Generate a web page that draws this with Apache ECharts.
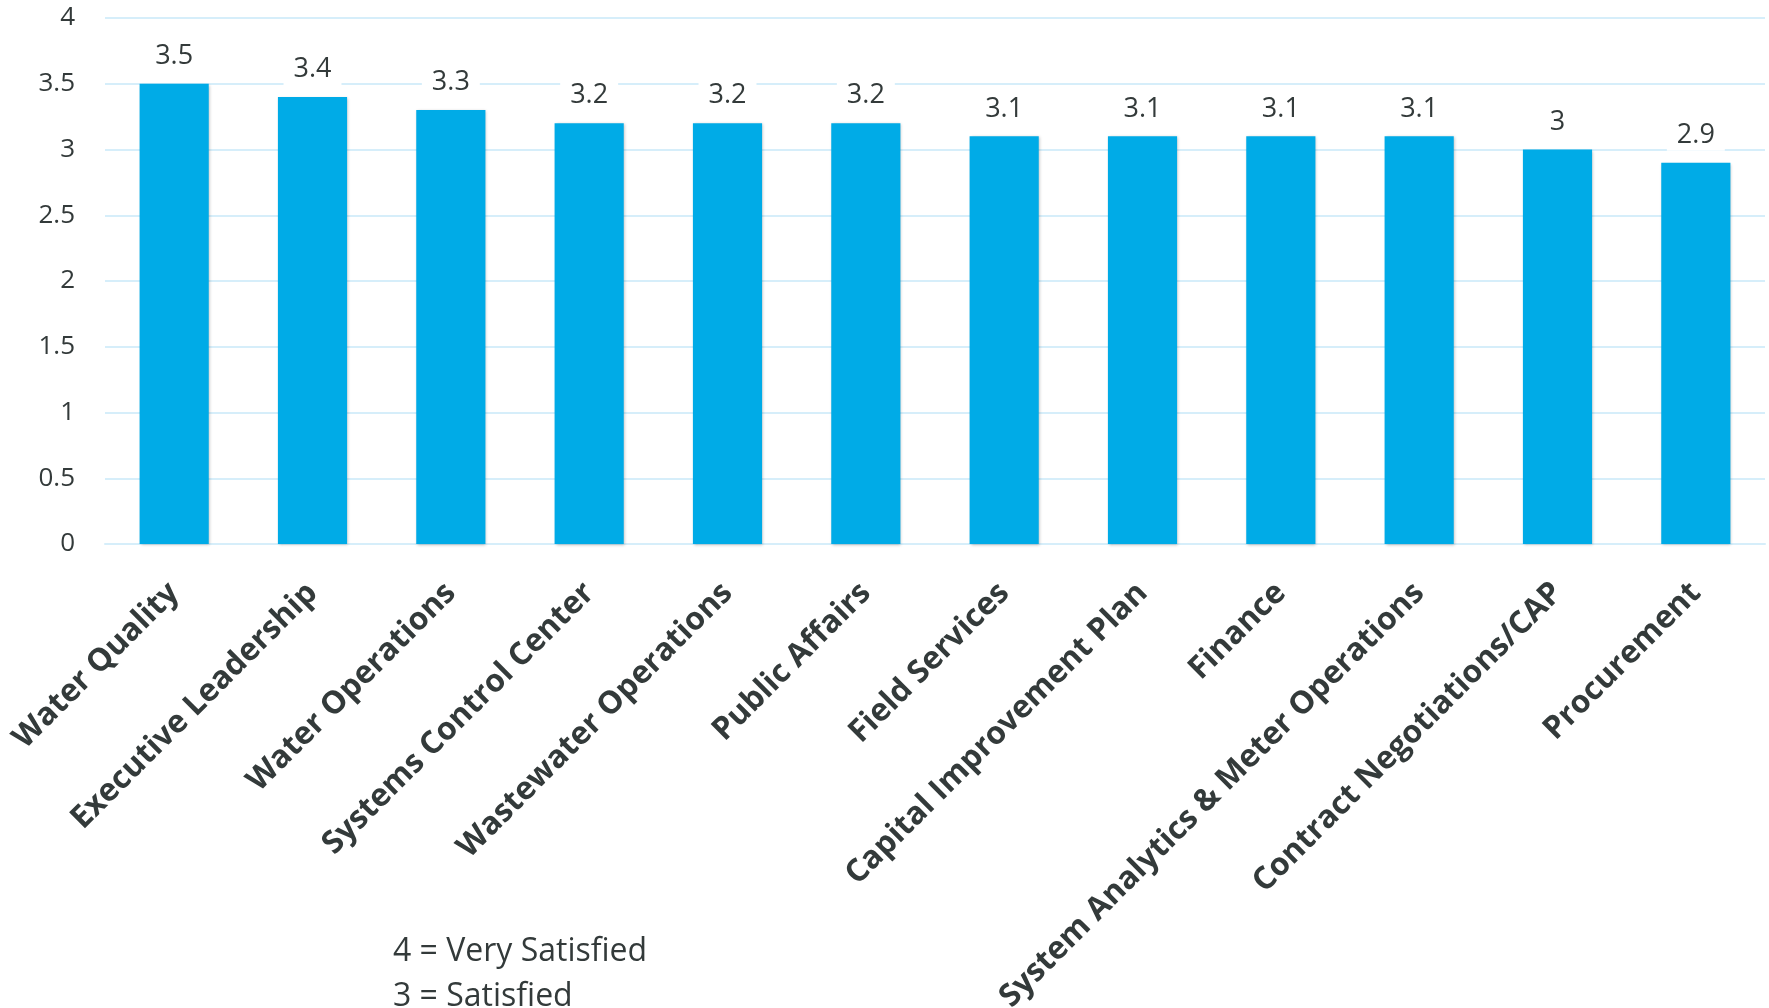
<!DOCTYPE html>
<html>
<head>
<meta charset="utf-8">
<script src="https://cdn.jsdelivr.net/npm/echarts@6/dist/echarts.min.js"></script>
<style>
  html, body { margin: 0; padding: 0; background: #fff; }
  #main { width: 1769px; height: 1008px; }
</style>
</head>
<body>
<div id="main"></div>
<script>
// departments, ordered as in the chart
var categories = [
  'Water Quality', 'Executive Leadership', 'Water Operations', 'Systems Control Center',
  'Wastewater Operations', 'Public Affairs', 'Field Services', 'Capital Improvement Plan',
  'Finance', 'System Analytics & Meter Operations', 'Contract Negotiations/CAP', 'Procurement'
];
var scores = [3.5, 3.4, 3.3, 3.2, 3.2, 3.2, 3.1, 3.1, 3.1, 3.1, 3.0, 2.9];
var notes = ['4 = Very Satisfied', '3 = Satisfied'];

var FONT = '"Open Sans", "Noto Sans", sans-serif';
var TXT = '#333a3a';

var myChart = echarts.init(document.getElementById('main'));
myChart.setOption({
  animation: false,
  grid: { left: 105, right: 4, top: 18, bottom: 464, containLabel: false, outerBoundsMode: 'none' },
  xAxis: {
    type: 'category',
    data: categories,
    axisLine: { show: true, lineStyle: { color: '#d6eefa', width: 2 } },
    axisTick: { show: false },
    axisLabel: {
      interval: 0,
      rotate: 45,
      margin: 44,
      color: TXT,
      fontFamily: FONT,
      fontWeight: 'bold',
      fontSize: 31.5
    }
  },
  yAxis: {
    type: 'value',
    min: 0,
    max: 4,
    interval: 0.5,
    axisLine: { show: false },
    axisTick: { show: false },
    axisLabel: { color: TXT, fontFamily: FONT, fontSize: 26, margin: 30 },
    splitLine: { lineStyle: { color: '#d6eefa', width: 2 } }
  },
  series: [{
    type: 'bar',
    data: scores,
    barWidth: '50%',
    itemStyle: {
      color: '#00abe7',
      shadowColor: 'rgba(0,0,0,0.25)',
      shadowBlur: 3,
      shadowOffsetX: 1,
      shadowOffsetY: 1
    },
    label: {
      show: true,
      position: 'top',
      distance: 12,
      color: TXT,
      fontFamily: FONT,
      fontSize: 27,
      backgroundColor: '#fff',
      padding: [2, 10]
    }
  }],
  graphic: notes.map(function (t, i) {
    return {
      type: 'text',
      left: 393,
      top: 936 + i * 45,
      style: { text: t, fill: TXT, font: '32px ' + FONT }
    };
  })
});
</script>
</body>
</html>
